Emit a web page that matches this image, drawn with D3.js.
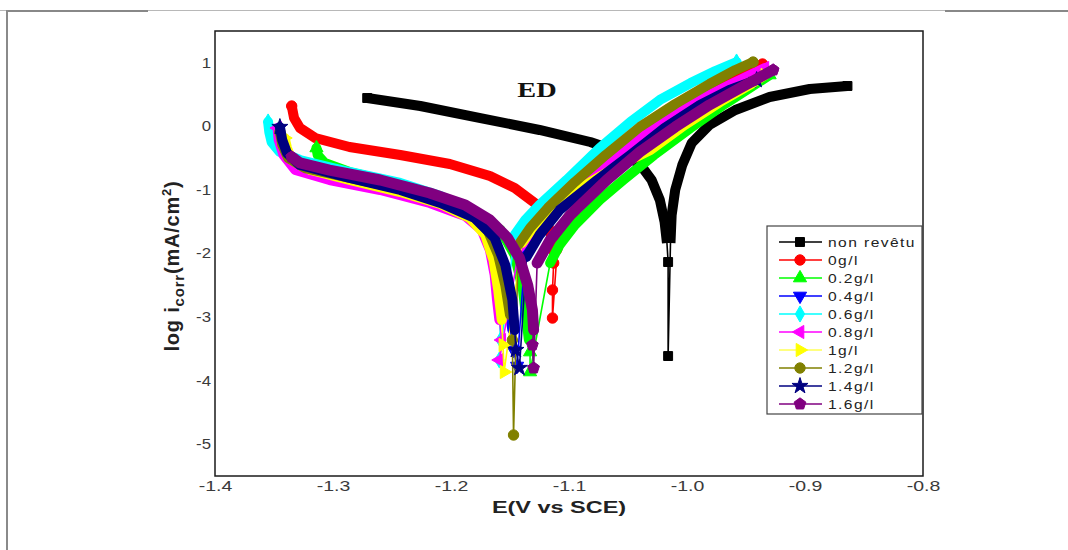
<!DOCTYPE html>
<html>
<head>
<meta charset="utf-8">
<script src="https://cdn.jsdelivr.net/npm/d3@7"></script>
<style>
  body { margin: 0; background: #fff; }
  svg { display: block; }
</style>
</head>
<body>
<svg id="chart" width="1068" height="550"></svg>
<script>
// Tafel polarisation curves, E (V vs SCE) against log i (mA/cm²)
// Each curve: dense cathodic branch, sparse points near Ecorr, dense anodic branch.

const xTicks = [-1.4, -1.3, -1.2, -1.1, -1.0, -0.9, -0.8];
const yTicks = [1, 0, -1, -2, -3, -4, -5];
const seriesNames = ["non revêtu", "0g/l", "0.2g/l", "0.4g/l", "0.6g/l", "0.8g/l", "1g/l", "1.2g/l", "1.4g/l", "1.6g/l"];

// non revêtu
const nonRevetuCath = [[-1.271,0.446],[-1.226,0.320],[-1.175,0.131],[-1.125,-0.057],[-1.082,-0.246],[-1.057,-0.403],[-1.040,-0.592],[-1.030,-0.844],[-1.023,-1.158],[-1.019,-1.505],[-1.017,-1.835]];
const nonRevetuEcorr = [[-1.016,-2.134],[-1.016,-3.613]];
const nonRevetuAnod = [[-1.014,-1.835],[-1.013,-1.394],[-1.010,-1.001],[-1.004,-0.608],[-0.996,-0.262],[-0.981,0.021],[-0.959,0.257],[-0.930,0.462],[-0.896,0.588],[-0.864,0.635]];

// 0 g/l
const c0Cath = [[-1.335,0.320],[-1.333,0.131],[-1.328,-0.026],[-1.315,-0.183],[-1.286,-0.325],[-1.243,-0.451],[-1.201,-0.592],[-1.167,-0.781],[-1.146,-0.970],[-1.129,-1.206],[-1.119,-1.473],[-1.114,-1.788],[-1.113,-1.977]];
const c0Ecorr = [[-1.113,-2.150],[-1.114,-2.574],[-1.114,-3.015]];
const c0Anod = [[-1.110,-1.945],[-1.106,-1.709],[-1.097,-1.394],[-1.082,-1.001],[-1.065,-0.529],[-1.040,-0.105],[-1.010,0.289],[-0.981,0.588],[-0.955,0.808],[-0.936,0.981]];

// 0.2 g/l
const c02Cath = [[-1.314,-0.340],[-1.313,-0.451],[-1.307,-0.576],[-1.286,-0.718],[-1.243,-0.907],[-1.209,-1.111],[-1.180,-1.347],[-1.158,-1.630],[-1.146,-2.024],[-1.139,-2.574],[-1.136,-3.046],[-1.134,-3.361]];
const c02Ecorr = [[-1.133,-3.550],[-1.133,-3.864]];
const c02Anod = [[-1.116,-2.150],[-1.108,-1.866],[-1.095,-1.552],[-1.074,-1.158],[-1.054,-0.844],[-1.028,-0.451],[-0.997,-0.026],[-0.968,0.352],[-0.947,0.603],[-0.930,0.808]];

// 0.4 g/l
const c04Cath = [[-1.346,-0.057],[-1.344,-0.246],[-1.340,-0.451],[-1.328,-0.624],[-1.286,-0.828],[-1.243,-1.017],[-1.209,-1.221],[-1.180,-1.457],[-1.163,-1.788],[-1.156,-2.228],[-1.152,-2.732],[-1.148,-3.204]];
const c04Ecorr = [[-1.147,-3.518],[-1.144,-3.770]];
const c04Anod = [[-1.137,-1.945],[-1.125,-1.630],[-1.108,-1.269],[-1.082,-0.844],[-1.053,-0.419],[-1.023,-0.010],[-0.993,0.352],[-0.968,0.588],[-0.942,0.729]];

// 0.6 g/l
const c06Cath = [[-1.355,0.069],[-1.354,-0.089],[-1.352,-0.246],[-1.345,-0.403],[-1.328,-0.529],[-1.286,-0.718],[-1.243,-0.891],[-1.209,-1.096],[-1.184,-1.316],[-1.171,-1.552],[-1.164,-1.866],[-1.161,-2.260],[-1.159,-2.732]];
const c06Ecorr = [[-1.159,-2.968],[-1.158,-3.361],[-1.159,-3.675]];
const c06Anod = [[-1.146,-1.709],[-1.137,-1.473],[-1.125,-1.237],[-1.102,-0.844],[-1.074,-0.340],[-1.048,0.069],[-1.023,0.415],[-0.997,0.682],[-0.976,0.871],[-0.958,1.012]];

// 0.8 g/l
const c08Cath = [[-1.347,-0.026],[-1.346,-0.215],[-1.342,-0.451],[-1.332,-0.687],[-1.303,-0.844],[-1.260,-1.001],[-1.218,-1.206],[-1.188,-1.410],[-1.174,-1.630],[-1.167,-1.945],[-1.163,-2.338],[-1.161,-2.732],[-1.159,-3.046]];
const c08Ecorr = [[-1.157,-3.361],[-1.159,-3.675]];
const c08Anod = [[-1.142,-1.913],[-1.129,-1.599],[-1.112,-1.269],[-1.082,-0.812],[-1.053,-0.372],[-1.023,0.037],[-0.993,0.383],[-0.964,0.651],[-0.934,0.918]];

// 1 g/l
const c1Cath = [[-1.341,-0.183],[-1.339,-0.340],[-1.335,-0.529],[-1.319,-0.687],[-1.286,-0.844],[-1.243,-1.033],[-1.209,-1.221],[-1.184,-1.442],[-1.171,-1.709],[-1.164,-2.103],[-1.160,-2.574],[-1.157,-3.046]];
const c1Ecorr = [[-1.156,-3.439],[-1.155,-3.864]];
const c1Anod = [[-1.140,-1.835],[-1.129,-1.552],[-1.112,-1.237],[-1.086,-0.923],[-1.057,-0.608],[-1.031,-0.372],[-1.002,0.021],[-0.972,0.383],[-0.947,0.651],[-0.934,0.808]];

// 1.2 g/l
const c12Cath = [[-1.345,-0.089],[-1.343,-0.293],[-1.338,-0.498],[-1.324,-0.655],[-1.286,-0.812],[-1.243,-0.985],[-1.209,-1.158],[-1.184,-1.363],[-1.169,-1.630],[-1.160,-2.024],[-1.154,-2.496],[-1.150,-2.968]];
const c12Ecorr = [[-1.148,-3.361],[-1.147,-4.855]];
const c12Anod = [[-1.143,-1.866],[-1.133,-1.599],[-1.118,-1.284],[-1.095,-0.875],[-1.069,-0.451],[-1.040,-0.010],[-1.010,0.352],[-0.981,0.666],[-0.959,0.887],[-0.944,1.012]];

// 1.4 g/l
const c14Cath = [[-1.345,-0.010],[-1.343,-0.215],[-1.339,-0.419],[-1.328,-0.608],[-1.286,-0.812],[-1.243,-1.001],[-1.209,-1.206],[-1.180,-1.442],[-1.163,-1.756],[-1.154,-2.181],[-1.148,-2.732],[-1.146,-3.204]];
const c14Ecorr = [[-1.145,-3.518],[-1.142,-3.801]];
const c14Anod = [[-1.136,-2.055],[-1.125,-1.709],[-1.108,-1.316],[-1.076,-0.844],[-1.048,-0.451],[-1.019,-0.026],[-0.989,0.336],[-0.964,0.572],[-0.941,0.729]];

// 1.6 g/l
const c16Cath = [[-1.335,-0.482],[-1.328,-0.576],[-1.303,-0.687],[-1.260,-0.844],[-1.218,-1.048],[-1.188,-1.237],[-1.167,-1.473],[-1.152,-1.756],[-1.142,-2.071],[-1.135,-2.496],[-1.131,-2.889],[-1.130,-3.204]];
const c16Ecorr = [[-1.131,-3.439],[-1.130,-3.801]];
const c16Anod = [[-1.127,-2.150],[-1.116,-1.788],[-1.099,-1.394],[-1.068,-0.844],[-1.040,-0.403],[-1.010,-0.010],[-0.981,0.336],[-0.955,0.603],[-0.927,0.887]];

const branches = [
  [nonRevetuCath, nonRevetuEcorr, nonRevetuAnod],
  [c0Cath, c0Ecorr, c0Anod],
  [c02Cath, c02Ecorr, c02Anod],
  [c04Cath, c04Ecorr, c04Anod],
  [c06Cath, c06Ecorr, c06Anod],
  [c08Cath, c08Ecorr, c08Anod],
  [c1Cath, c1Ecorr, c1Anod],
  [c12Cath, c12Ecorr, c12Anod],
  [c14Cath, c14Ecorr, c14Anod],
  [c16Cath, c16Ecorr, c16Anod]
];

// ---- styling ----
const colors = ["#000000", "#ff0000", "#00ff00", "#0000ff", "#00ffff", "#ff00ff", "#ffff00", "#808000", "#000080", "#800080"];

const symbolPentagon = {
  draw(ctx, size) {
    const r = Math.sqrt(size / (2.5 * Math.sin(2 * Math.PI / 5)));
    for (let i = 0; i < 5; i++) {
      const a = -Math.PI / 2 + i * 2 * Math.PI / 5;
      const px = r * Math.cos(a), py = r * Math.sin(a);
      if (i === 0) ctx.moveTo(px, py); else ctx.lineTo(px, py);
    }
    ctx.closePath();
  }
};
// [symbol type, rotation, size]
const markers = [
  [d3.symbolSquare, 0, 80],
  [d3.symbolCircle, 0, 85],
  [d3.symbolTriangle, 0, 75],
  [d3.symbolTriangle, 180, 75],
  [d3.symbolDiamond, 0, 75],
  [d3.symbolTriangle, -90, 75],
  [d3.symbolTriangle, 90, 75],
  [d3.symbolCircle, 0, 85],
  [d3.symbolStar, 0, 80],
  [symbolPentagon, 0, 90]
];
const bandWidths = [10, 10, 10, 10, 10, 10, 10, 10, 10, 11];

const svg = d3.select("#chart");
const plot = { left: 215, top: 31, right: 923, bottom: 476 };

const x = d3.scaleLinear().domain([-1.4, -0.8]).range([plot.left, plot.right]);
const y = d3.scaleLinear().domain([-5.5, 1.5]).range([plot.bottom, plot.top]);

const FONT = "'Liberation Sans', Arial, sans-serif";
const SX = 1.3; // wide lettering

// page border lines
svg.append("line").attr("x1", 0).attr("x2", 1068).attr("y1", 10.5).attr("y2", 10.5)
  .attr("stroke", "#b8b8b8").attr("stroke-width", 1);
svg.append("line").attr("x1", 7).attr("x2", 148).attr("y1", 11).attr("y2", 11)
  .attr("stroke", "#888").attr("stroke-width", 2);
svg.append("line").attr("x1", 945).attr("x2", 1068).attr("y1", 11).attr("y2", 11)
  .attr("stroke", "#888").attr("stroke-width", 2);
svg.append("line").attr("x1", 7).attr("x2", 7).attr("y1", 10).attr("y2", 550)
  .attr("stroke", "#8a8a8a").attr("stroke-width", 2);

svg.append("defs").append("clipPath").attr("id", "plotClip")
  .append("rect").attr("x", plot.left).attr("y", plot.top)
  .attr("width", plot.right - plot.left).attr("height", plot.bottom - plot.top);

// axes (labels only, frame drawn separately)
const xAxis = svg.append("g").attr("transform", `translate(0,${plot.bottom})`)
  .call(d3.axisBottom(x).tickValues(xTicks).tickSize(0).tickPadding(4).tickFormat(d => d.toFixed(1)));
const yAxis = svg.append("g").attr("transform", `translate(${plot.left},0)`)
  .call(d3.axisLeft(y).tickValues(yTicks).tickSize(0).tickPadding(4).tickFormat(d => String(d)));
[xAxis, yAxis].forEach(g => {
  g.select(".domain").remove();
  g.selectAll("text").attr("font-family", FONT).attr("fill", "#3a3a3a");
});
xAxis.selectAll("text").attr("font-size", 15).attr("transform", `scale(${SX},1)`);
yAxis.selectAll("text").attr("font-size", 14).attr("transform", `scale(1.2,1)`).attr("x", -4 / 1.2);

// curves
const line = d3.line().x(d => x(d[0])).y(d => y(d[1]));
const curves = svg.append("g").attr("clip-path", "url(#plotClip)");

branches.forEach(([cath, ecorr, anod], i) => {
  const g = curves.append("g");
  const col = colors[i];
  const all = cath.concat(ecorr, anod);
  g.append("path").attr("d", line(all)).attr("fill", "none")
    .attr("stroke", col).attr("stroke-width", 1.6);
  [cath, anod].forEach(b => {
    g.append("path").attr("d", line(b)).attr("fill", "none")
      .attr("stroke", col).attr("stroke-width", bandWidths[i])
      .attr("stroke-linejoin", "round")
      .attr("stroke-linecap", i === 0 ? "butt" : "round");
  });
  const [type, rot, size] = markers[i];
  const sym = d3.symbol().type(type).size(size);
  const pts = [cath[0]].concat(ecorr, [anod[anod.length - 1]]);
  g.selectAll("path.mk").data(pts).join("path").attr("class", "mk")
    .attr("d", sym)
    .attr("transform", d => `translate(${x(d[0])},${y(d[1])}) rotate(${rot})`)
    .attr("fill", col).attr("stroke", col).attr("stroke-width", 1);
});

// plot frame
svg.append("rect").attr("x", plot.left).attr("y", plot.top)
  .attr("width", plot.right - plot.left).attr("height", plot.bottom - plot.top)
  .attr("fill", "none").attr("stroke", "#1a1a1a").attr("stroke-width", 1.5);

// inner title
svg.append("text").attr("transform", "translate(537,97) scale(1.35,1)")
  .attr("text-anchor", "middle").attr("font-family", "'Liberation Serif', 'Times New Roman', serif")
  .attr("font-weight", "bold").attr("font-size", 21).attr("fill", "#111").text("ED");

// axis titles
svg.append("text").attr("transform", "translate(559,513) scale(1.38,1)")
  .attr("text-anchor", "middle").attr("font-family", FONT).attr("font-weight", "bold")
  .attr("font-size", 17).attr("fill", "#222").text("E(V vs SCE)");

const yt = svg.append("text").attr("transform", "translate(179,266) rotate(-90)")
  .attr("text-anchor", "middle").attr("font-family", FONT).attr("font-weight", "bold")
  .attr("font-size", 20).attr("letter-spacing", 0.8).attr("fill", "#222");
yt.append("tspan").text("log i");
yt.append("tspan").attr("font-size", 15).attr("dy", 5).text("corr");
yt.append("tspan").attr("dy", -5).text("(mA/cm");
yt.append("tspan").attr("font-size", 13).attr("dy", -8).text("2");
yt.append("tspan").attr("dy", 8).text(")");

// legend
const lg = svg.append("g");
lg.append("rect").attr("x", 767).attr("y", 226).attr("width", 155).attr("height", 188)
  .attr("fill", "#fff").attr("stroke", "#444").attr("stroke-width", 1.2);
seriesNames.forEach((name, i) => {
  const cy = 242 + i * 18;
  const col = colors[i];
  lg.append("line").attr("x1", 779).attr("x2", 822).attr("y1", cy).attr("y2", cy)
    .attr("stroke", col).attr("stroke-width", i === 6 ? 1 : 1.3);
  const [type, rot, size] = markers[i];
  lg.append("path").attr("d", d3.symbol().type(type).size(size)())
    .attr("transform", `translate(800,${cy}) rotate(${rot})`)
    .attr("fill", col).attr("stroke", col);
  lg.append("text").attr("transform", `translate(828,${cy + 4.5}) scale(1.3,1)`)
    .attr("font-family", FONT).attr("font-size", 12).attr("letter-spacing", 1.1)
    .attr("fill", "#222").text(name);
});
</script>
</body>
</html>
